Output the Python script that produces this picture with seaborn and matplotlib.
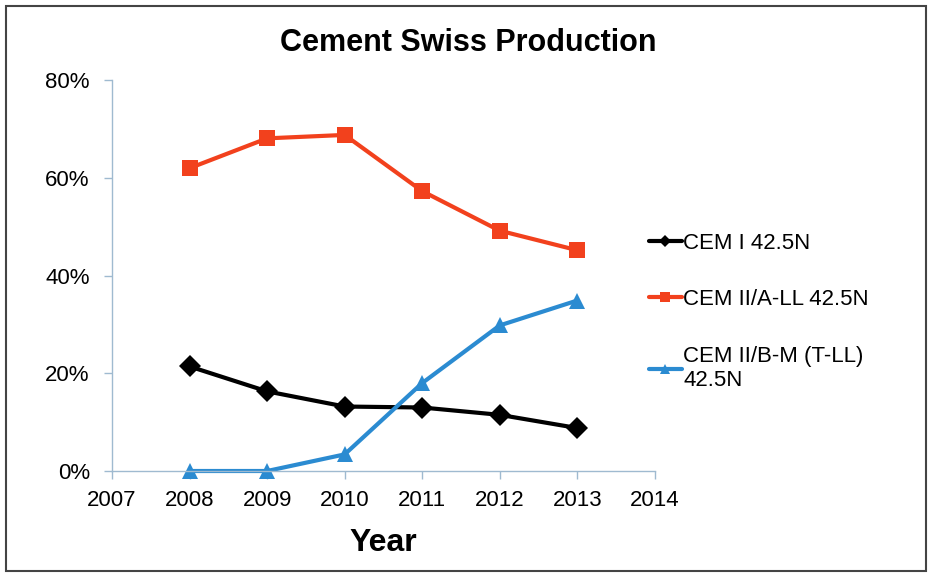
import numpy as np
import pandas as pd
import matplotlib
matplotlib.use("Agg")
import matplotlib.pyplot as plt
import seaborn as sns
from matplotlib.patches import Rectangle
from matplotlib.ticker import PercentFormatter

# values (share of production)
years = [2008, 2009, 2010, 2011, 2012, 2013]
cem_i = [0.214, 0.163, 0.132, 0.130, 0.115, 0.088]
cem_ii_a_ll = [0.620, 0.681, 0.688, 0.573, 0.492, 0.452]
cem_ii_b_m = [0.0, 0.0, 0.034, 0.180, 0.298, 0.349]
series_names = ["CEM I 42.5N", "CEM II/A-LL 42.5N", "CEM II/B-M (T-LL)\n42.5N"]

df = pd.DataFrame({
    "Year": years * 3,
    "Share": cem_i + cem_ii_a_ll + cem_ii_b_m,
    "Cement": [n for n in series_names for _ in years],
})

sns.set_style("white")
plt.rcParams["font.family"] = ["Liberation Sans", "DejaVu Sans"]
plt.rcParams["text.color"] = "black"

palette = {series_names[0]: "#000000", series_names[1]: "#f2411d", series_names[2]: "#2b8bd1"}
markers = {series_names[0]: "D", series_names[1]: "s", series_names[2]: "^"}

fig = plt.figure(figsize=(9.34, 5.73), dpi=100)
ax = fig.add_axes([0.12, 0.178, 0.581, 0.682])

sns.lineplot(data=df, x="Year", y="Share", hue="Cement", style="Cement",
             palette=palette, markers=markers, dashes=False, linewidth=3,
             markersize=11, markeredgewidth=0, clip_on=False, ax=ax)

ax.set_xlim(2007, 2014)
ax.set_ylim(0, 0.8)
ax.set_xticks(range(2007, 2015))
ax.set_yticks([0, 0.2, 0.4, 0.6, 0.8])
ax.yaxis.set_major_formatter(PercentFormatter(1.0, decimals=0))
ax.tick_params(axis="both", labelsize=16, colors="#9fbad0", labelcolor="black",
               length=6, width=1, direction="out", left=True, bottom=True)
ax.tick_params(axis="y", pad=10)
ax.tick_params(axis="x", pad=8)
for side in ["top", "right"]:
    ax.spines[side].set_visible(False)
for side in ["left", "bottom"]:
    ax.spines[side].set_color("#9fbad0")
    ax.spines[side].set_linewidth(1)

ax.set_ylabel("")
ax.set_xlabel("Year", fontsize=23, fontweight="bold", labelpad=12, color="black")
fig.text(0.501, 0.925, "Cement Swiss Production", ha="center", va="center",
         fontsize=22, fontweight="bold", color="black")

ax.legend(loc="upper left", bbox_to_anchor=(0.673, 0.629), bbox_transform=fig.transFigure,
          frameon=False, fontsize=16, labelspacing=1.6, handlelength=1.5,
          handletextpad=0.05, markerscale=0.6, title=None)

fig.patches.append(Rectangle((0.006, 0.004), 0.985, 0.985, transform=fig.transFigure,
                             fill=False, edgecolor="#444444", linewidth=1.5))

fig.savefig("out.png", dpi=100)
